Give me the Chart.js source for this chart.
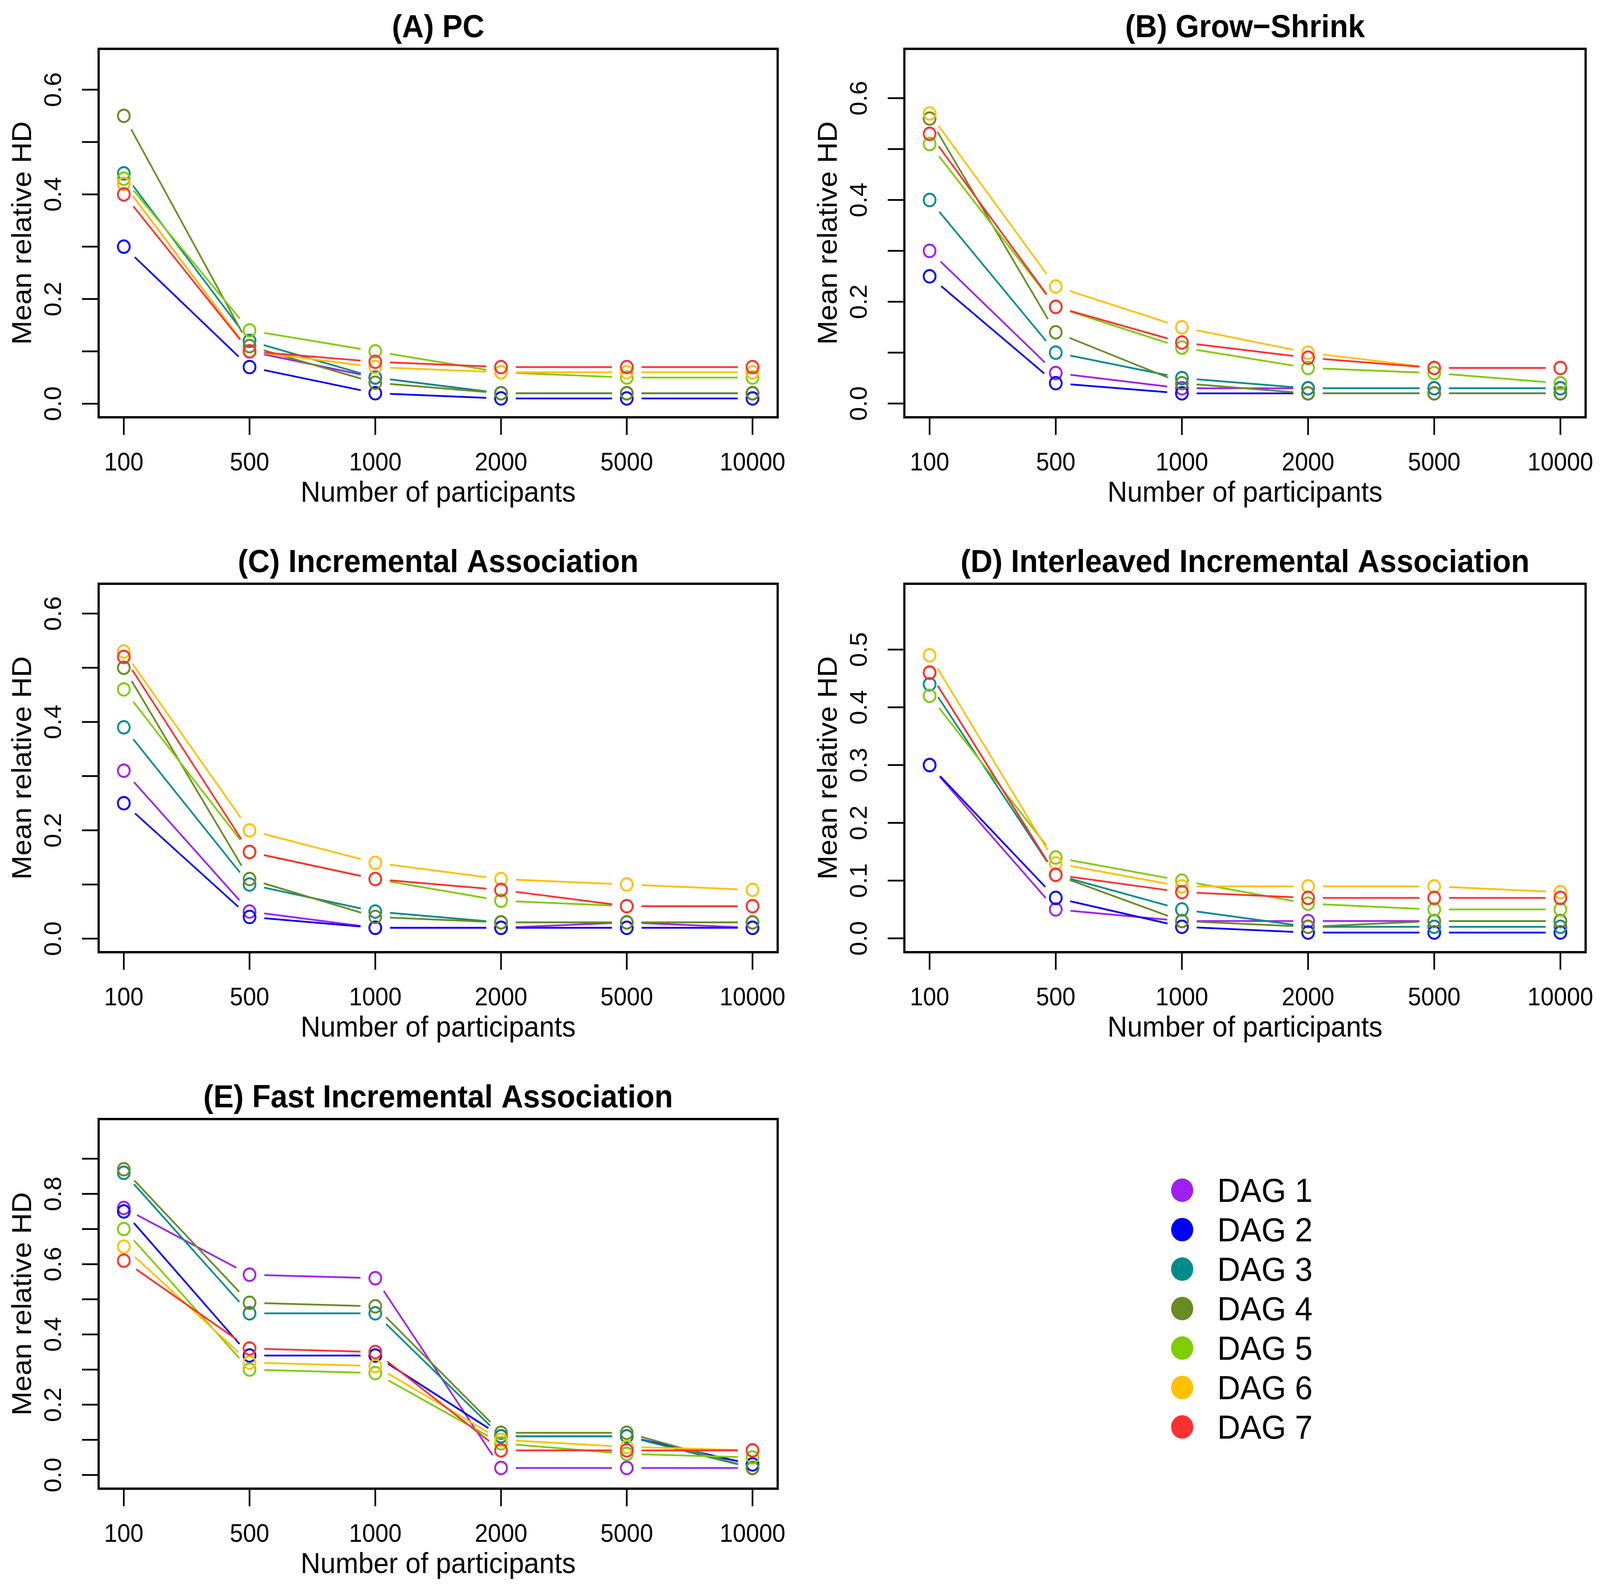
<!DOCTYPE html>
<html>
<head>
<meta charset="utf-8">
<title>Mean relative HD by number of participants</title>
<script src="https://cdn.jsdelivr.net/npm/chart.js@4.4.0/dist/chart.umd.min.js"></script>
<style>
  html, body { margin: 0; padding: 0; background: #fff; overflow: hidden; }
  #fig { position: relative; width: 4331px; height: 4077px; overflow: hidden;
         transform-origin: 0 0;
         font-family: "Liberation Sans", Arial, sans-serif; }
  #fig canvas { position: absolute; }
  .key { position: absolute; left: 3170px; height: 100px; display: flex; align-items: center; }
  .key .dot { width: 60px; height: 60px; border-radius: 50%; margin-right: 65px; }
  .key .txt { font-size: 86px; line-height: 1; color: #000; }
</style>
</head>
<body>
<div id="fig">
  <canvas id="chartPC"></canvas>
  <canvas id="chartGS"></canvas>
  <canvas id="chartIA"></canvas>
  <canvas id="chartIIA"></canvas>
  <canvas id="chartFIA"></canvas>
  <div id="legend"></div>
</div>
<script>
// sample sizes on the x axis
const xLabels = ['100', '500', '1000', '2000', '5000', '10000'];
const dagNames = ['DAG 1', 'DAG 2', 'DAG 3', 'DAG 4', 'DAG 5', 'DAG 6', 'DAG 7'];
const dagColors = ['#A020F0', '#0000FF', '#008B8B', '#698B22', '#7FCC00', '#FFC000', '#FF3030'];

// mean relative HD, one row per DAG
const pcHD = [
  [0.42, 0.10, 0.05, 0.02, 0.02, 0.02],
  [0.30, 0.07, 0.02, 0.01, 0.01, 0.01],
  [0.44, 0.12, 0.05, 0.02, 0.02, 0.02],
  [0.55, 0.11, 0.04, 0.02, 0.02, 0.02],
  [0.43, 0.14, 0.10, 0.06, 0.05, 0.05],
  [0.42, 0.10, 0.07, 0.06, 0.06, 0.06],
  [0.40, 0.10, 0.08, 0.07, 0.07, 0.07]
];
const growShrinkHD = [
  [0.30, 0.06, 0.03, 0.03, 0.03, 0.03],
  [0.25, 0.04, 0.02, 0.02, 0.02, 0.02],
  [0.40, 0.10, 0.05, 0.03, 0.03, 0.03],
  [0.56, 0.14, 0.04, 0.02, 0.02, 0.02],
  [0.51, 0.19, 0.11, 0.07, 0.06, 0.04],
  [0.57, 0.23, 0.15, 0.10, 0.07, 0.07],
  [0.53, 0.19, 0.12, 0.09, 0.07, 0.07]
];
const incAssocHD = [
  [0.31, 0.05, 0.02, 0.02, 0.03, 0.02],
  [0.25, 0.04, 0.02, 0.02, 0.02, 0.02],
  [0.39, 0.10, 0.05, 0.03, 0.03, 0.03],
  [0.50, 0.11, 0.04, 0.03, 0.03, 0.03],
  [0.46, 0.16, 0.11, 0.07, 0.06, 0.06],
  [0.53, 0.20, 0.14, 0.11, 0.10, 0.09],
  [0.52, 0.16, 0.11, 0.09, 0.06, 0.06]
];
const interIncAssocHD = [
  [0.30, 0.05, 0.03, 0.03, 0.03, 0.03],
  [0.30, 0.07, 0.02, 0.01, 0.01, 0.01],
  [0.44, 0.11, 0.05, 0.02, 0.02, 0.02],
  [0.46, 0.11, 0.03, 0.02, 0.03, 0.03],
  [0.42, 0.14, 0.10, 0.06, 0.05, 0.05],
  [0.49, 0.13, 0.09, 0.09, 0.09, 0.08],
  [0.46, 0.11, 0.08, 0.07, 0.07, 0.07]
];
const fastIncAssocHD = [
  [0.76, 0.57, 0.56, 0.02, 0.02, 0.02],
  [0.75, 0.34, 0.34, 0.11, 0.11, 0.03],
  [0.86, 0.46, 0.46, 0.11, 0.11, 0.02],
  [0.87, 0.49, 0.48, 0.12, 0.12, 0.02],
  [0.70, 0.30, 0.29, 0.09, 0.06, 0.05],
  [0.65, 0.32, 0.31, 0.10, 0.08, 0.07],
  [0.61, 0.36, 0.35, 0.07, 0.07, 0.07]
];

// y ticks and their labels (R leaves every other one blank)
const yTicksSix = [0, 0.1, 0.2, 0.3, 0.4, 0.5, 0.6];
const yLabelsSix = ['0.0', '', '0.2', '', '0.4', '', '0.6'];
const yTicksFive = [0, 0.1, 0.2, 0.3, 0.4, 0.5];
const yLabelsFive = ['0.0', '0.1', '0.2', '0.3', '0.4', '0.5'];
const yTicksNine = [0, 0.1, 0.2, 0.3, 0.4, 0.5, 0.6, 0.7, 0.8, 0.9];
const yLabelsNine = ['0.0', '', '0.2', '', '0.4', '', '0.6', '', '0.8', ''];

const FONT = '"Liberation Sans", Arial, sans-serif';
const FIG_W = 4331, FIG_H = 4077;
const POINT_GAP = 40;   // type="b": the line stops short of each circle

// canvas region (x0,y0,w,h) and plot box (left,top,right,bottom) in page pixels
const panels = [
  { id: 'chartPC', title: '(A) PC', values: pcHD, yMin: -0.026, yMax: 0.678,
    yTicks: yTicksSix, yLabels: yLabelsSix,
    x0: 0, y0: 0, w: 2200, h: 1340, left: 267, top: 125, right: 2105, bottom: 1068 },
  { id: 'chartGS', title: '(B) Grow\u2212Shrink', values: growShrinkHD, yMin: -0.027, yMax: 0.697,
    yTicks: yTicksSix, yLabels: yLabelsSix,
    x0: 2180, y0: 0, w: 2151, h: 1340, left: 2448, top: 125, right: 4292, bottom: 1068 },
  { id: 'chartIA', title: '(C) Incremental Association', values: incAssocHD, yMin: -0.025, yMax: 0.655,
    yTicks: yTicksSix, yLabels: yLabelsSix,
    x0: 0, y0: 1360, w: 2200, h: 1340, left: 267, top: 1494, right: 2105, bottom: 2437 },
  { id: 'chartIIA', title: '(D) Interleaved Incremental Association', values: interIncAssocHD, yMin: -0.024, yMax: 0.614,
    yTicks: yTicksFive, yLabels: yLabelsFive,
    x0: 2180, y0: 1360, w: 2151, h: 1340, left: 2448, top: 1494, right: 4292, bottom: 2437 },
  { id: 'chartFIA', title: '(E) Fast Incremental Association', values: fastIncAssocHD, yMin: -0.039, yMax: 1.013,
    yTicks: yTicksNine, yLabels: yLabelsNine,
    x0: 0, y0: 2720, w: 2200, h: 1357, left: 267, top: 2864, right: 2105, bottom: 3810 }
];
const panelById = {};
panels.forEach(p => { panelById[p.id] = p; });

// the viewport may be narrower than the figure: stretch the figure to fill it
const fig = document.getElementById('fig');
const sx = window.innerWidth / FIG_W;
const sy = window.innerHeight / FIG_H;
if (sx > 0 && sy > 0 && (Math.abs(sx - 1) > 0.002 || Math.abs(sy - 1) > 0.002)) {
  fig.style.transform = 'scale(' + sx + ',' + sy + ')';
}

function drawLine(ctx, x1, y1, x2, y2) {
  ctx.beginPath();
  ctx.moveTo(x1, y1);
  ctx.lineTo(x2, y2);
  ctx.stroke();
}

function segLength(c) {
  return Math.hypot(c.p1.x - c.p0.x, c.p1.y - c.p0.y);
}

// base-R look: box, outward ticks, rotated y labels, titles
const rStyleAxes = {
  id: 'rStyleAxes',
  afterDraw(chart) {
    const panel = panelById[chart.canvas.id];
    if (!panel) return;
    const { ctx, chartArea: area } = chart;
    const xScale = chart.scales.x;
    const yScale = chart.scales.y;
    const midX = (area.left + area.right) / 2;
    ctx.save();
    ctx.strokeStyle = '#000';
    ctx.fillStyle = '#000';
    ctx.lineWidth = 6;
    ctx.strokeRect(area.left, area.top, area.right - area.left, area.bottom - area.top);

    ctx.lineWidth = 4.5;
    ctx.font = '64px ' + FONT;
    ctx.textAlign = 'center';
    ctx.textBaseline = 'middle';
    xLabels.forEach((label, i) => {
      const px = xScale.getPixelForValue(i + 1);
      drawLine(ctx, px, area.bottom, px, area.bottom + 45);
      ctx.fillText(label, px, area.bottom + 118);
    });
    panel.yTicks.forEach((v, i) => {
      const py = yScale.getPixelForValue(v);
      drawLine(ctx, area.left - 45, py, area.left, py);
      const label = panel.yLabels[i];
      if (label) {
        ctx.save();
        ctx.translate(area.left - 120, py);
        ctx.rotate(-Math.PI / 2);
        ctx.fillText(label, 0, 0);
        ctx.restore();
      }
    });

    ctx.font = '74px ' + FONT;
    ctx.fillText('Number of participants', midX, area.bottom + 196);
    ctx.save();
    ctx.translate(area.left - 203, (area.top + area.bottom) / 2);
    ctx.rotate(-Math.PI / 2);
    ctx.fillText('Mean relative HD', 0, 0);
    ctx.restore();

    ctx.font = 'bold 82px ' + FONT;
    ctx.fillText(panel.title, midX, area.top - 53);
    ctx.restore();
  }
};

function createPanel(panel) {
  const canvas = document.getElementById(panel.id);
  canvas.width = panel.w;
  canvas.height = panel.h;
  canvas.style.left = panel.x0 + 'px';
  canvas.style.top = panel.y0 + 'px';

  const datasets = panel.values.map((series, k) => ({
    label: dagNames[k],
    data: series.map((v, i) => ({ x: i + 1, y: v })),
    borderColor: dagColors[k],
    backgroundColor: dagColors[k],
    pointBorderColor: dagColors[k],
    pointBackgroundColor: 'rgba(0,0,0,0)',
    borderWidth: 4.5,
    pointRadius: 16,
    pointBorderWidth: 5,
    tension: 0,
    order: dagColors.length - 1 - k,
    clip: false,
    // dash each segment so it starts and ends POINT_GAP px away from the circles
    segment: {
      borderDash: c => {
        const len = segLength(c);
        const dash = Math.max(len - 2 * POINT_GAP, 0.01);
        return [dash, Math.max(len - dash, 0.01)];
      },
      borderDashOffset: c => segLength(c) - POINT_GAP
    }
  }));

  return new Chart(canvas, {
    type: 'line',
    data: { datasets: datasets },
    options: {
      responsive: false,
      devicePixelRatio: 1,
      animation: false,
      events: [],
      layout: {
        padding: {
          left: panel.left - panel.x0,
          top: panel.top - panel.y0,
          right: panel.x0 + panel.w - panel.right,
          bottom: panel.y0 + panel.h - panel.bottom
        }
      },
      scales: {
        x: { type: 'linear', display: false, min: 0.8, max: 6.2 },
        y: { type: 'linear', display: false, min: panel.yMin, max: panel.yMax }
      },
      plugins: {
        legend: { display: false },
        tooltip: { enabled: false }
      }
    },
    plugins: [rStyleAxes]
  });
}

panels.forEach(createPanel);

// legend in the empty sixth cell
const legend = document.getElementById('legend');
dagNames.forEach((name, k) => {
  const row = document.createElement('div');
  row.className = 'key';
  row.style.top = (3046 + 101 * k - 50) + 'px';
  const dot = document.createElement('span');
  dot.className = 'dot';
  dot.style.background = dagColors[k];
  const txt = document.createElement('span');
  txt.className = 'txt';
  txt.textContent = name;
  row.appendChild(dot);
  row.appendChild(txt);
  legend.appendChild(row);
});
</script>
</body>
</html>
